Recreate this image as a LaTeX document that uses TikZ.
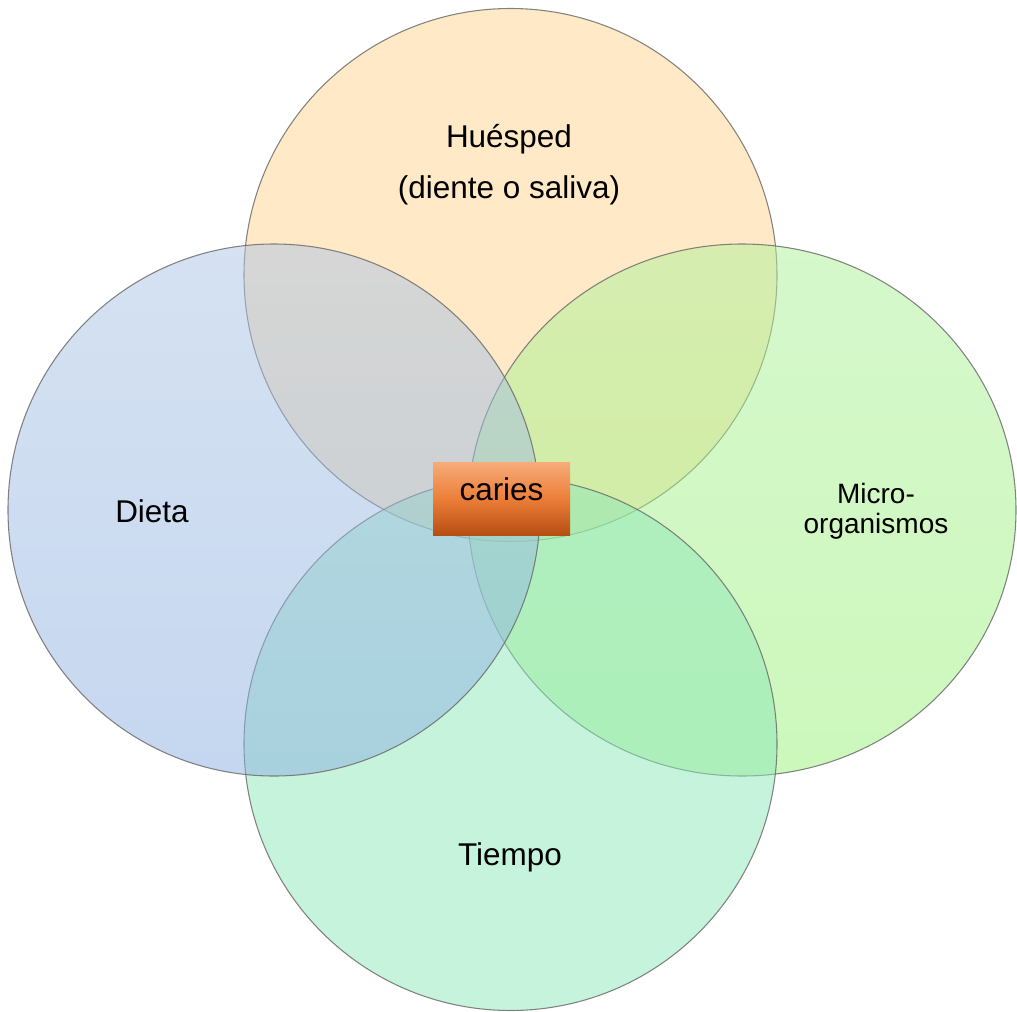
\documentclass[tikz,border=0pt]{standalone}
\usepackage{fontspec}
\setmainfont{Liberation Sans}
\usetikzlibrary{shapes.geometric}
\definecolor{topc}{RGB}{255,211,141}
\definecolor{leftt}{RGB}{173,197,229}
\definecolor{leftb}{RGB}{139,175,225}
\definecolor{rightt}{RGB}{173,241,153}
\definecolor{rightb}{RGB}{155,241,121}
\definecolor{botc}{RGB}{141,231,185}
\definecolor{edgec}{RGB}{110,110,110}
\definecolor{cartop}{RGB}{246,172,122}
\definecolor{carmid}{RGB}{236,126,56}
\definecolor{carbot}{RGB}{182,78,18}
\tikzset{
  venn/.style={ellipse, inner sep=0pt, outer sep=0pt, draw=edgec, line width=0.8pt, fill opacity=0.5, draw opacity=0.85},
  lbl/.style={font=\fontsize{23.6}{28}\selectfont, text=black, align=center, inner sep=0pt},
  smalllbl/.style={font=\fontsize{21}{22.5}\selectfont, text=black, align=center, inner sep=0pt},
  carbox/.style={rectangle, inner sep=0pt, minimum width=102.75pt, minimum height=54.75pt, top color=cartop, bottom color=carbot, middle color=carmid, font=\fontsize{23.6}{28}\selectfont, text=black, text height=12.5pt, text depth=9pt}
}
\begin{document}
\begin{tikzpicture}[x=0.75pt, y=-0.75pt]
\useasboundingbox (0,0) rectangle (1017,1011);
\node[venn, fill=topc, minimum width=399.75pt, minimum height=399.75pt] (top) at (510.5,275) {};
\node[venn, top color=rightt, bottom color=rightb, minimum width=411pt, minimum height=399pt] (right) at (742,510) {};
\node[venn, fill=botc, minimum width=399.75pt, minimum height=399.75pt] (bottom) at (510.5,744) {};
\node[venn, top color=leftt, bottom color=leftb, minimum width=399pt, minimum height=399pt] (left) at (274,510) {};
\node[lbl] (hues) at (509,139) {Huésped};
\node[lbl] (dien) at (509,190) {(diente o saliva)};
\node[lbl] (dieta) at (152,511) {Dieta};
\node[smalllbl] (micro) at (876,511) {Micro-\\organismos};
\node[lbl] (tiempo) at (510,857) {Tiempo};
\node[carbox] (caries) at (501.5,498.5) {caries};
\end{tikzpicture}
\end{document}
